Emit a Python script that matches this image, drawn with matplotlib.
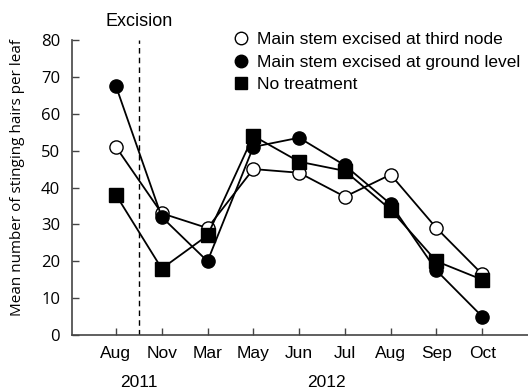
import matplotlib
matplotlib.use("Agg")
import matplotlib.pyplot as plt
from matplotlib.lines import Line2D

months = ["Aug", "Nov", "Mar", "May", "Jun", "Jul", "Aug", "Sep", "Oct"]
third_node = [51, 33, 29, 45, 44, 37.5, 43.5, 29, 16.5]
ground_level = [67.5, 32, 20, 51, 53.5, 46, 35.5, 17.5, 5]
no_treatment = [38, 18, 27, 54, 47, 44.5, 34, 20, 15]
yticks = [0, 10, 20, 30, 40, 50, 60, 70, 80]
labels = ['Main stem excised at third node', 'Main stem excised at ground level', 'No treatment']

plt.rcParams['font.family'] = ['Liberation Sans', 'DejaVu Sans']
fig = plt.figure(figsize=(5.28, 3.9), dpi=100)
ax = fig.add_axes([72 / 528, 55 / 390, 1 - 72 / 528, 295 / 390])
x = list(range(len(months)))

ms = 9.5
ax.plot(x, third_node, '-o', color='black', mfc='white', mec='black', ms=ms, lw=1.3, mew=1.0)
ax.plot(x, ground_level, '-o', color='black', ms=ms, lw=1.3)
ax.plot(x, no_treatment, '-s', color='black', ms=ms, lw=1.3)

ax.axvline(0.5, color='black', ls=(0, (4, 3)), lw=1.0)

ax.set_xlim(-0.96, 9)
ax.set_ylim(0, 80)
ax.set_xticks(x)
ax.set_xticklabels(months, fontsize=12.5)
ax.set_yticks(yticks)
ax.set_yticklabels([str(v) for v in yticks], fontsize=12, family=['Open Sans', 'DejaVu Sans'])
ax.tick_params(direction='in', length=5, width=1, color='#444444')
ax.tick_params(axis='y', pad=8.5)
ax.tick_params(axis='x', pad=8)
for s in ['top', 'right']:
    ax.spines[s].set_visible(False)
for s in ['left', 'bottom']:
    ax.spines[s].set_color('#444444')
    ax.spines[s].set_linewidth(1.2)

fig.text(18 / 528, 1 - 178 / 390, 'Mean number of stinging hairs per leaf', rotation=90,
         ha='center', va='center', fontsize=11, family=['Open Sans', 'DejaVu Sans'])

ax.text(0.5, 84.9, 'Excision', ha='center', va='center', fontsize=13, clip_on=False)
ax.text(0.5, -12.8, '2011', ha='center', va='center', fontsize=12.5, clip_on=False)
ax.text(4.6, -12.8, '2012', ha='center', va='center', fontsize=12.5, clip_on=False)

handles = [
    Line2D([], [], ls='none', marker='o', color='black', mfc='white', mec='black', ms=9, mew=1.0),
    Line2D([], [], ls='none', marker='o', color='black', ms=9),
    Line2D([], [], ls='none', marker='s', color='black', ms=8.5),
]
fig.legend(handles=handles, labels=labels, loc='upper left', bbox_to_anchor=(232 / 528, 1 - 32 / 390),
           bbox_transform=fig.transFigure, frameon=False, fontsize=12.5,
           handlelength=1.0, handletextpad=0.45, labelspacing=0.42, borderpad=0, borderaxespad=0)

fig.savefig('out.png', dpi=100)
